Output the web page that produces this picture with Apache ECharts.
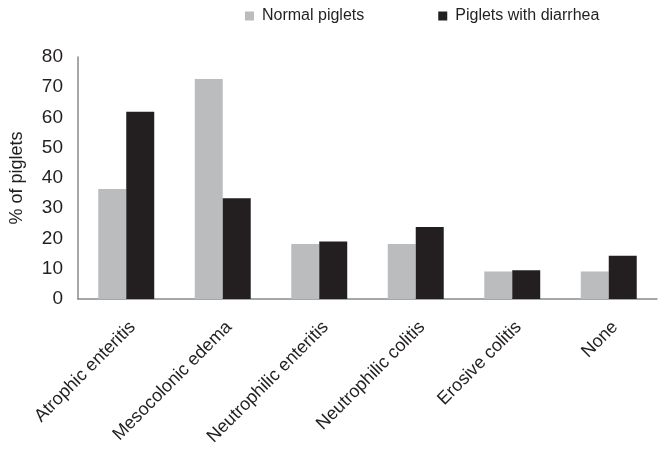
<!DOCTYPE html>
<html>
<head>
<meta charset="utf-8">
<script src="https://cdn.jsdelivr.net/npm/echarts@6/dist/echarts.min.js"></script>
<style>
    html, body { margin: 0; padding: 0; background: #fff; }
    #chart { width: 666px; height: 453px; }
</style>
</head>
<body>
<div id="chart"></div>
<script>
    // lesion categories
    const categories = ['Atrophic enteritis', 'Mesocolonic edema', 'Neutrophilic enteritis', 'Neutrophilic colitis', 'Erosive colitis', 'None']
    // % of piglets
    const normalPiglets = [36.4, 72.7, 18.2, 18.2, 9.1, 9.1]
    const diarrheaPiglets = [61.9, 33.3, 19.0, 23.8, 9.5, 14.3]
    const seriesNames = ['Normal piglets', 'Piglets with diarrhea']

    const font = 'Liberation Sans, Arial, Helvetica, sans-serif'
    const chart = echarts.init(document.getElementById('chart'))

    chart.setOption({
        animation: false,
        textStyle: { fontFamily: font, color: '#231f20' },
        color: ['#bbbcbe', '#231f20'],
        legend: {
            left: 240,
            top: 3,
            itemWidth: 9,
            itemHeight: 9,
            itemGap: 74,
            icon: 'rect',
            textStyle: { fontSize: 16, color: '#231f20', padding: [0, 0, 0, 3] },
            data: seriesNames
        },
        grid: {
            left: 77,
            right: 9,
            top: 57,
            bottom: 154
        },
        xAxis: {
            type: 'category',
            data: categories,
            axisTick: { show: false },
            axisLine: { lineStyle: { color: '#8a8a8a', width: 1.5 } },
            axisLabel: {
                rotate: 45,
                fontSize: 18,
                color: '#231f20',
                margin: 19,
                verticalAlign: 'top',
                interval: 0
            }
        },
        yAxis: {
            type: 'value',
            min: 0,
            max: 80,
            interval: 10,
            name: '% of piglets',
            nameLocation: 'middle',
            nameGap: 52,
            nameTextStyle: { fontSize: 18, color: '#231f20' },
            splitLine: { show: false },
            axisTick: { show: false },
            axisLine: { show: true, lineStyle: { color: '#8a8a8a', width: 1.5 } },
            axisLabel: { fontSize: 19, color: '#231f20', margin: 15 }
        },
        series: [
            {
                name: seriesNames[0],
                type: 'bar',
                data: normalPiglets,
                barGap: '0%',
                barCategoryGap: '42%'
            }, {
                name: seriesNames[1],
                type: 'bar',
                data: diarrheaPiglets,
                barGap: '0%',
                barCategoryGap: '42%'
            }
        ]
    })
</script>
</body>
</html>
